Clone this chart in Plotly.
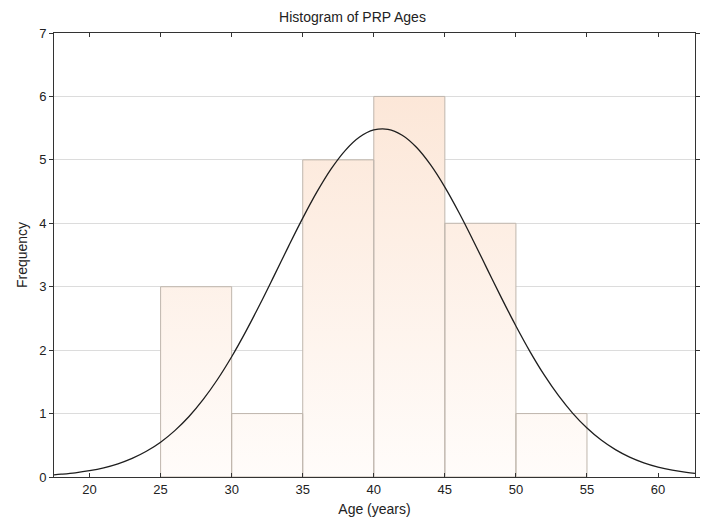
import plotly.graph_objects as go

# Histogram data
bin_starts = [25, 30, 35, 40, 45, 50]
bin_width = 5
counts = [3, 1, 5, 6, 4, 1]

# Fitted normal curve
curve_x = [17.5, 18, 19, 20, 21, 22, 23, 24, 25, 26, 27, 28, 29, 30, 31, 32, 33, 34, 35,
           36, 37, 38, 39, 40, 41, 42, 43, 44, 45, 46, 47, 48, 49, 50, 51, 52, 53, 54, 55,
           56, 57, 58, 59, 60, 61, 62, 62.6]
curve_y = [0.035, 0.044, 0.066, 0.099, 0.145, 0.208, 0.293, 0.405, 0.549, 0.731, 0.954,
           1.223, 1.537, 1.896, 2.296, 2.727, 3.179, 3.636, 4.081, 4.494, 4.857, 5.150,
           5.359, 5.471, 5.482, 5.389, 5.199, 4.921, 4.571, 4.166, 3.726, 3.270, 2.816,
           2.380, 1.973, 1.605, 1.282, 1.004, 0.772, 0.582, 0.431, 0.313, 0.223, 0.156,
           0.107, 0.072, 0.056]

x_ticks = [20, 25, 30, 35, 40, 45, 50, 55, 60]
y_ticks = [0, 1, 2, 3, 4, 5, 6, 7]

# build bar polygons from data
px, py = [], []
for s, c in zip(bin_starts, counts):
    px += [s, s, s + bin_width, s + bin_width, s, None]
    py += [0, c, c, 0, 0, None]

fig = go.Figure()
fig.add_trace(go.Scatter(
    x=px, y=py, mode="lines", fill="toself",
    line=dict(color="#bfb6ad", width=1),
    fillgradient=dict(type="vertical", start=0, stop=6,
                      colorscale=[[0, "#fffcfa"], [1, "#fce7d8"]]),
    hoverinfo="skip", showlegend=False,
))
fig.add_trace(go.Scatter(
    x=curve_x, y=curve_y, mode="lines", line_shape="spline",
    line=dict(color="#1e1e1e", width=1.3), showlegend=False,
))

fig.update_layout(
    width=705, height=529,
    margin=dict(l=54, r=5, t=33, b=52),
    paper_bgcolor="white", plot_bgcolor="white",
    font=dict(family="Liberation Sans, Arial, sans-serif", size=12, color="#222"),
    title=dict(text="Histogram of PRP Ages", x=0.5, xanchor="center", y=0.968, yanchor="middle",
               font=dict(size=14, color="#222")),
    xaxis=dict(range=[17.5, 62.6], tickvals=x_ticks, ticks="inside", ticklen=4,
               tickcolor="#333", showline=True, linecolor="#333", linewidth=1,
               mirror="ticks", showgrid=False, zeroline=False,
               title=dict(text="Age (years)", standoff=8), tickfont=dict(size=13)),
    yaxis=dict(range=[0, 7], tickvals=y_ticks, ticks="outside", ticklen=4,
               tickcolor="#333", showline=True, linecolor="#333", linewidth=1,
               mirror="ticks", showgrid=True, gridcolor="#dcdcdc", zeroline=False,
               title=dict(text="Frequency", standoff=8), tickfont=dict(size=13)),
)

fig.write_html("out.html")
